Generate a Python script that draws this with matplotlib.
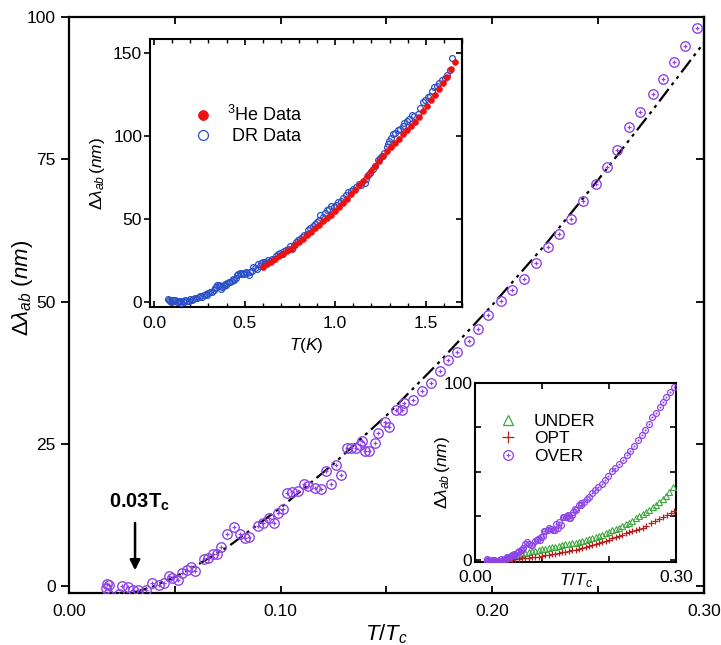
import matplotlib
matplotlib.use("Agg")
import matplotlib.pyplot as plt
from matplotlib.ticker import MultipleLocator, FixedLocator
from matplotlib.lines import Line2D

plt.rcParams['font.family'] = ['Liberation Sans', 'DejaVu Sans']
plt.rcParams['mathtext.fontset'] = 'custom'
plt.rcParams['mathtext.rm'] = 'Liberation Sans'
plt.rcParams['mathtext.it'] = 'Liberation Sans:italic'
plt.rcParams['mathtext.bf'] = 'Liberation Sans:bold'

# ---------------- main panel data (OVER, T/Tc vs dlambda) ----------------
over_t = [0.0175, 0.0180, 0.0185, 0.0190, 0.0235, 0.0249, 0.0277, 0.0304, 0.0328, 0.0364,
          0.0390, 0.0427, 0.0449, 0.0472, 0.0485, 0.0513, 0.0532, 0.0556, 0.0576, 0.0595,
          0.0639, 0.0658, 0.0682, 0.0701, 0.0718, 0.0745, 0.0781, 0.0808, 0.0830, 0.0849,
          0.0891, 0.0918, 0.0946, 0.0968, 0.0986, 0.1012, 0.1028, 0.1052, 0.1083, 0.1111,
          0.1130, 0.1162, 0.1189, 0.1214, 0.1236, 0.1260, 0.1285, 0.1315, 0.1332, 0.1354,
          0.1375, 0.1386, 0.1398, 0.1419, 0.1445, 0.1461, 0.1493, 0.1512, 0.1545, 0.1575,
          0.1582, 0.1623, 0.1666, 0.1708, 0.1752, 0.1792, 0.1831, 0.1889, 0.1933, 0.1981,
          0.2039, 0.2094, 0.2148, 0.2204, 0.2264, 0.2316, 0.2371, 0.2427, 0.2488, 0.2540,
          0.2590, 0.2647, 0.2700, 0.2757, 0.2807, 0.2858, 0.2910, 0.2965]
over_l = [-0.3, 0.4, -1.4, 0.2, -1.3, 0.1, -0.2, -0.6, -0.6, -0.6,
          0.6, 0.2, 0.5, 1.8, 1.4, 1.1, 2.4, 2.8, 3.3, 2.7,
          4.7, 4.9, 5.6, 5.6, 6.8, 9.1, 10.4, 9.1, 8.5, 8.7,
          10.5, 11.1, 11.9, 11.1, 12.8, 13.6, 16.4, 16.5, 16.7, 17.9,
          17.6, 17.2, 17.0, 20.3, 17.9, 21.3, 19.6, 24.2, 24.3, 24.2,
          24.8, 25.5, 23.7, 23.7, 25.2, 27.0, 28.8, 28.0, 31.0, 30.9,
          32.1, 32.8, 34.3, 35.7, 37.8, 39.7, 41.2, 43.1, 45.1, 47.6,
          50.1, 52.1, 54.0, 56.7, 59.6, 61.8, 64.5, 67.7, 70.7, 73.7,
          76.6, 80.6, 83.3, 86.5, 89.1, 92.1, 94.9, 98.0]

fit_t = [0.030, 0.040, 0.050, 0.060, 0.075, 0.100, 0.125, 0.150, 0.175, 0.200,
         0.225, 0.250, 0.275, 0.300]
fit_l = [-1.2, 0.0, 1.6, 3.6, 6.9, 13.8, 21.5, 30.0, 39.4, 49.4,
         60.0, 71.4, 83.3, 95.5]

main_xticks = [0.00, 0.10, 0.20, 0.30]
main_xlabels = ['0.00', '0.10', '0.20', '0.30']
main_yticks = [0, 25, 50, 75, 100]

# ---------------- inset 1 data (T in K) ----------------
dr_t = [0.075, 0.081, 0.088, 0.094, 0.100, 0.106, 0.112, 0.118, 0.124, 0.130,
        0.136, 0.142, 0.150, 0.158, 0.164, 0.172, 0.180, 0.191, 0.200, 0.207,
        0.215, 0.225, 0.237, 0.247, 0.255, 0.265, 0.275, 0.285, 0.292, 0.300,
        0.310, 0.320, 0.330, 0.338, 0.343, 0.350, 0.356, 0.362, 0.368, 0.375,
        0.385, 0.392, 0.398, 0.405, 0.412, 0.420, 0.428, 0.435, 0.442, 0.450,
        0.458, 0.466, 0.474, 0.482, 0.490, 0.498, 0.507, 0.515, 0.522, 0.530,
        0.540, 0.548, 0.558, 0.568, 0.575, 0.585, 0.593, 0.603, 0.612, 0.620,
        0.630, 0.640, 0.650, 0.662, 0.672, 0.683, 0.695, 0.705, 0.716, 0.728,
        0.740, 0.752, 0.760, 0.772, 0.785, 0.795, 0.806, 0.818, 0.830, 0.842,
        0.851, 0.862, 0.875, 0.887, 0.898, 0.908, 0.918, 0.930, 0.942, 0.955,
        0.968, 0.979, 0.992, 1.003, 1.015, 1.030, 1.043, 1.058, 1.070, 1.085,
        1.100, 1.116, 1.130, 1.145, 1.162, 1.172, 1.180, 1.195, 1.208, 1.220,
        1.235, 1.248, 1.260, 1.272, 1.285, 1.292, 1.299, 1.310, 1.321, 1.333,
        1.345, 1.360, 1.372, 1.382, 1.395, 1.410, 1.425, 1.437, 1.455, 1.470,
        1.486, 1.498, 1.510, 1.522, 1.535, 1.547, 1.560, 1.575, 1.592, 1.605,
        1.620, 1.633, 1.647]
dr_l = [1.5, 1.0, 0.3, 0.0, 1.2, 0.5, 0.8, 1.0, -0.3, 0.4,
        0.0, 0.6, -0.6, 0.2, -0.4, 0.8, 0.3, 0.6, 1.4, 0.9,
        1.6, 2.5, 2.2, 2.9, 3.6, 3.0, 4.0, 4.8, 4.2, 5.2,
        6.0, 5.6, 7.2, 8.4, 8.7, 10.0, 10.3, 9.3, 7.8, 8.7,
        9.5, 10.5, 10.3, 11.0, 12.0, 11.7, 12.5, 13.4, 13.1, 14.6,
        16.0, 16.8, 17.3, 16.5, 17.6, 17.0, 18.2, 17.1, 16.4, 18.0,
        18.8, 21.0, 20.4, 19.5, 22.5, 21.8, 23.5, 23.8, 24.2, 23.3,
        25.0, 24.5, 26.0, 25.5, 27.8, 28.5, 29.5, 28.8, 30.5, 31.5,
        32.0, 33.5, 31.8, 34.5, 36.0, 37.5, 38.0, 39.0, 40.2, 41.0,
        43.0, 44.5, 45.5, 46.8, 48.0, 49.5, 52.1, 51.0, 53.5, 55.5,
        56.0, 57.5, 57.0, 58.7, 60.5, 61.0, 62.8, 64.5, 66.0, 67.0,
        68.0, 69.2, 71.0, 70.5, 71.6, 74.0, 76.3, 77.5, 80.3, 82.0,
        85.8, 86.5, 88.0, 90.0, 93.4, 95.0, 97.0, 99.0, 101.1, 102.0,
        103.5, 104.5, 106.0, 107.9, 109.0, 110.5, 112.5, 112.0, 113.6, 117.0,
        120.6, 122.0, 123.7, 124.5, 127.0, 129.4, 130.5, 132.0, 133.8, 135.0,
        136.8, 140.0, 146.9]

he_t = [0.603, 0.625, 0.647, 0.669, 0.691, 0.713, 0.735, 0.757, 0.779, 0.801,
        0.823, 0.845, 0.867, 0.889, 0.911, 0.933, 0.955, 0.977, 0.999, 1.021,
        1.043, 1.065, 1.087, 1.109, 1.131, 1.153, 1.175, 1.197, 1.219, 1.241,
        1.263, 1.285, 1.307, 1.329, 1.351, 1.373, 1.395, 1.417, 1.439, 1.461,
        1.483, 1.505, 1.527, 1.549, 1.571, 1.593, 1.615, 1.637, 1.661]
he_l = [21.2, 22.8, 24.2, 25.8, 27.3, 28.8, 30.4, 32.0, 34.0, 35.8,
        37.8, 40.0, 42.0, 44.3, 46.5, 48.5, 50.5, 52.6, 54.6, 57.2,
        59.8, 62.3, 65.0, 67.6, 70.5, 73.0, 76.0, 79.0, 82.0, 85.0,
        88.0, 91.0, 93.5, 96.0, 98.5, 101.0, 103.5, 106.0, 108.8, 111.5,
        115.0, 118.5, 122.0, 125.0, 128.5, 132.0, 136.0, 140.5, 144.9]

in1_xticks = [0.0, 0.5, 1.0, 1.5]
in1_yticks = [0, 50, 100, 150]

# ---------------- inset 2 data (three dopings) ----------------
under_t = [0.020, 0.025, 0.030, 0.035, 0.040, 0.045, 0.050, 0.055, 0.060, 0.065,
           0.070, 0.075, 0.080, 0.085, 0.090, 0.095, 0.100, 0.105, 0.110, 0.115,
           0.120, 0.125, 0.130, 0.135, 0.140, 0.145, 0.150, 0.155, 0.160, 0.165,
           0.170, 0.175, 0.180, 0.185, 0.190, 0.195, 0.200, 0.205, 0.210, 0.215,
           0.220, 0.225, 0.230, 0.235, 0.240, 0.245, 0.250, 0.255, 0.260, 0.265,
           0.270, 0.275, 0.280, 0.285, 0.290, 0.296]
under_l = [0.2, -0.3, 0.3, 0.0, 0.5, 0.9, 1.3, 1.9, 2.4, 2.8,
           3.3, 3.8, 4.6, 4.9, 5.3, 5.6, 6.0, 6.5, 6.9, 7.2,
           7.5, 7.9, 8.4, 8.8, 9.0, 9.4, 9.9, 10.3, 10.8, 11.3,
           11.8, 12.4, 13.0, 13.6, 14.4, 15.0, 15.8, 16.7, 17.4, 18.3,
           19.2, 20.1, 21.2, 22.3, 23.5, 24.6, 25.8, 27.0, 28.4, 29.8,
           31.3, 32.9, 34.6, 36.4, 38.5, 41.1]

opt_t = [0.020, 0.025, 0.030, 0.035, 0.040, 0.045, 0.050, 0.055, 0.060, 0.065,
         0.070, 0.075, 0.080, 0.085, 0.090, 0.095, 0.100, 0.105, 0.110, 0.115,
         0.120, 0.125, 0.130, 0.135, 0.140, 0.145, 0.150, 0.155, 0.160, 0.165,
         0.170, 0.175, 0.180, 0.185, 0.190, 0.195, 0.200, 0.205, 0.210, 0.215,
         0.220, 0.225, 0.230, 0.235, 0.240, 0.245, 0.250, 0.255, 0.262, 0.268,
         0.274, 0.280, 0.286, 0.292, 0.297]
opt_l = [-0.5, -0.2, -0.6, -0.3, -0.1, 0.0, 0.2, 0.1, 0.5, 0.6,
         0.9, 1.0, 1.3, 1.5, 1.8, 2.0, 2.3, 2.6, 3.0, 3.3,
         3.6, 3.9, 4.3, 4.6, 5.0, 5.4, 5.8, 6.3, 6.8, 7.3,
         7.8, 8.4, 9.0, 9.5, 10.2, 10.8, 11.5, 12.2, 12.9, 13.6,
         14.3, 15.0, 15.7, 16.4, 17.0, 17.7, 18.3, 19.0, 20.8, 21.8,
         23.0, 24.2, 25.4, 26.6, 27.8]

PURPLE = '#8E44E6'
GREEN = '#3DAA3D'
DKRED = '#B22222'
BLUE = '#2A50C8'
RED = '#EE1111'

fig = plt.figure(figsize=(7.21, 6.45), dpi=100)

# ---------------- main axes ----------------
ax = fig.add_axes([0.0957, 0.0806, 0.8807, 0.8930])
ax.plot(fit_t, fit_l, color='k', lw=1.6, dashes=(7, 2.2, 1.4, 2.2, 1.4, 2.2), zorder=2)
ax.plot(over_t, over_l, ls='none', marker='o', ms=6.8, mfc='none', mec=PURPLE, mew=1.0, zorder=3)
ax.plot(over_t, over_l, ls='none', marker='+', ms=3.0, mec=PURPLE, mew=0.9, zorder=3)
ax.set_xlim(0, 0.30)
ax.set_ylim(-1.2, 100)
ax.set_xticks(main_xticks)
ax.set_xticklabels(main_xlabels)
ax.xaxis.set_minor_locator(MultipleLocator(0.05))
ax.set_yticks(main_yticks)
ax.tick_params(axis='x', which='both', direction='in', top=True, length=5, width=1.3,
               labelsize=12.5, pad=8)
ax.tick_params(axis='y', which='both', direction='out', length=6, width=1.3, labelsize=12.5)
ax2r = ax.secondary_yaxis('right')
ax2r.set_yticks(main_yticks)
ax2r.tick_params(direction='in', length=6, width=1.3, labelright=False)
for s in ax.spines.values():
    s.set_linewidth(1.6)
ax2r.spines['right'].set_linewidth(1.6)
ax.set_xlabel(r'$T/T_c$', fontsize=16, labelpad=2)
ax.set_ylabel(r'$\Delta\lambda_{ab}\ (nm)$', fontsize=16, labelpad=4)
ax.yaxis.set_label_coords(-0.053, 0.53)

ax.annotate('', xy=(0.0312, 2.3), xytext=(0.0312, 11.6),
            arrowprops=dict(arrowstyle='-|>', color='k', lw=1.8, mutation_scale=15))
ax.text(0.0335, 14.8, r'$\mathbf{0.03T_c}$', fontsize=14.5, ha='center', va='center')

# ---------------- inset 1 ----------------
a1 = fig.add_axes([0.2087, 0.5233, 0.4320, 0.4163])
a1.plot(dr_t, dr_l, ls='none', marker='o', ms=4.2, mfc='none', mec=BLUE, mew=0.9,
        label=' DR Data', zorder=3)
a1.plot(he_t, he_l, ls='none', marker='o', ms=4.2, mfc=RED, mec=RED, mew=0.5,
        label=r'$^{3}$He Data', zorder=4)
a1.set_xlim(-0.02, 1.70)
a1.set_ylim(-3.5, 158.7)
a1.set_xticks(in1_xticks)
a1.set_xticklabels(['0.0', '0.5', '1.0', '1.5'])
a1.xaxis.set_minor_locator(MultipleLocator(0.1))
a1.set_yticks(in1_yticks)
a1.tick_params(axis='x', which='major', direction='in', top=True, length=4, width=1.2,
               labelsize=12.5, pad=6)
a1.tick_params(axis='x', which='minor', direction='in', top=True, length=3, width=1.0)
a1.tick_params(axis='y', direction='out', length=4, width=1.2, labelsize=12.5, pad=2)
a1r = a1.secondary_yaxis('right')
a1r.set_yticks(in1_yticks)
a1r.tick_params(direction='in', length=4, width=1.2, labelright=False)
for s in a1.spines.values():
    s.set_linewidth(1.5)
a1r.spines['right'].set_linewidth(1.5)
a1.set_xlabel(r'$T(K)$', fontsize=12.5, labelpad=4)
a1.set_ylabel(r'$\Delta\lambda_{ab}\,(nm)$', fontsize=12.5, labelpad=4)
h, l = a1.get_legend_handles_labels()
a1.legend([h[1], h[0]], [l[1], l[0]], loc='upper left', bbox_to_anchor=(0.14, 0.755),
          frameon=False, fontsize=13, handlelength=1.0, handletextpad=0.8,
          labelspacing=0.2, borderpad=0, borderaxespad=0, markerscale=1.7)

# ---------------- inset 2 ----------------
a2 = fig.add_axes([0.6588, 0.1287, 0.2788, 0.2775])
a2.plot(under_t, under_l, ls='none', marker='^', ms=4, mfc='none', mec=GREEN, mew=0.8,
        label='UNDER', zorder=3)
a2.plot(opt_t, opt_l, ls='none', marker='+', ms=4, mec=DKRED, mew=0.9,
        label='OPT', zorder=3)
a2.plot(over_t, over_l, ls='none', marker='o', ms=4.2, mfc='none', mec=PURPLE, mew=0.9,
        zorder=4)
a2.plot(over_t, over_l, ls='none', marker='+', ms=1.8, mec=PURPLE, mew=0.7, zorder=4)
a2.set_xlim(0, 0.30)
a2.set_ylim(-1.1, 100)
a2.xaxis.set_major_locator(FixedLocator([0.0, 0.1, 0.2, 0.3]))
a2.set_xticklabels(['0.00', '', '', '0.30'])
a2.yaxis.set_major_locator(FixedLocator([0, 25, 50, 75, 100]))
a2.set_yticklabels(['0', '', '', '', '100'])
a2.tick_params(axis='x', direction='in', top=True, length=4, width=1.2,
               labelsize=12.5, pad=6)
a2.tick_params(axis='y', direction='in', right=True, length=4, width=1.2,
               labelsize=12.5, pad=2)
for s in a2.spines.values():
    s.set_linewidth(1.5)
a2.set_xlabel(r'$T/T_c$', fontsize=12.5, labelpad=-10)
a2.set_ylabel(r'$\Delta\lambda_{ab}\,(nm)$', fontsize=12.5, labelpad=-6)

hov = (Line2D([], [], ls='none', marker='o', ms=7, mfc='none', mec=PURPLE, mew=0.9),
       Line2D([], [], ls='none', marker='+', ms=3.5, mec=PURPLE, mew=0.8))
hun = Line2D([], [], ls='none', marker='^', ms=7, mfc='none', mec=GREEN, mew=0.9)
hop = Line2D([], [], ls='none', marker='+', ms=8, mec=DKRED, mew=0.9)
a2.legend([hun, hop, hov], ['UNDER', 'OPT', 'OVER'], loc='upper left',
          bbox_to_anchor=(0.12, 0.83), frameon=False, fontsize=12.5,
          handlelength=1.0, handletextpad=1.0, labelspacing=0.15,
          borderpad=0, borderaxespad=0)

fig.savefig('out.png', dpi=100)
